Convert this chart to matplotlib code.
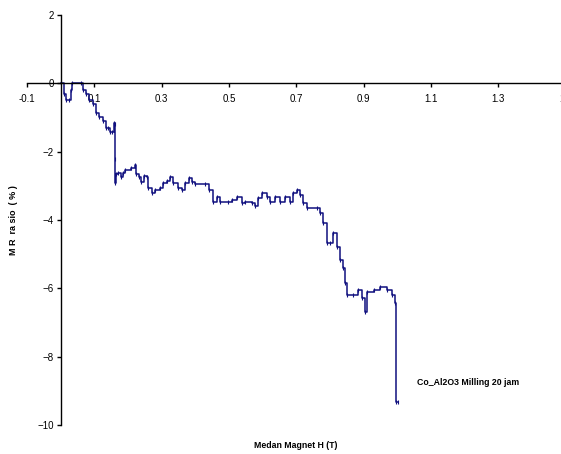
import numpy as np
import matplotlib
matplotlib.use('Agg')
import matplotlib.pyplot as plt

plt.rcParams['font.family'] = ['Liberation Sans Narrow', 'Liberation Sans', 'DejaVu Sans']

# data (H in tesla, MR ratio in %)
H = [0.0, 0.01, 0.017, 0.025, 0.03, 0.035, 0.06, 0.065, 0.075, 0.085,
     0.096, 0.105, 0.115, 0.126, 0.135, 0.14, 0.148, 0.153, 0.158, 0.16,
     0.161, 0.162, 0.165, 0.17, 0.178, 0.185, 0.19, 0.21, 0.22, 0.225,
     0.232, 0.24, 0.248, 0.257, 0.26, 0.27, 0.28, 0.295, 0.305, 0.315,
     0.325, 0.334, 0.35, 0.36, 0.37, 0.38, 0.39, 0.4, 0.43, 0.44,
     0.453, 0.464, 0.473, 0.497, 0.51, 0.524, 0.54, 0.548, 0.568, 0.577,
     0.587, 0.598, 0.613, 0.622, 0.637, 0.652, 0.667, 0.68, 0.69, 0.702,
     0.71, 0.72, 0.732, 0.762, 0.77, 0.78, 0.79, 0.8, 0.81, 0.82,
     0.83, 0.84, 0.845, 0.85, 0.87, 0.884, 0.895, 0.904, 0.91, 0.93,
     0.95, 0.97, 0.984, 0.993, 0.995, 1.003]
MR = [0.0, -0.3, -0.5, -0.5, -0.2, 0.0, 0.0, -0.2, -0.3, -0.5,
      -0.6, -0.88, -1.0, -1.1, -1.3, -1.3, -1.43, -1.43, -1.17, -1.2,
      -2.2, -2.92, -2.65, -2.63, -2.75, -2.62, -2.54, -2.49, -2.4, -2.65,
      -2.75, -2.9, -2.7, -2.75, -3.07, -3.2, -3.12, -3.07, -2.92, -2.85,
      -2.74, -2.92, -3.07, -3.12, -2.92, -2.78, -2.9, -2.95, -2.95, -3.12,
      -3.47, -3.33, -3.47, -3.47, -3.42, -3.33, -3.5, -3.47, -3.5, -3.6,
      -3.36, -3.2, -3.33, -3.47, -3.33, -3.47, -3.33, -3.47, -3.2, -3.12,
      -3.27, -3.5, -3.65, -3.65, -3.8, -4.09, -4.67, -4.67, -4.38, -4.79,
      -5.17, -5.4, -5.84, -6.19, -6.19, -6.04, -6.28, -6.69, -6.1, -6.05,
      -5.95, -6.05, -6.19, -6.42, -9.34, -9.34]

xticks = [-0.1, 0.1, 0.3, 0.5, 0.7, 0.9, 1.1, 1.3, 1.5]
xticklabels = ['-0.1', '0.1', '0.3', '0.5', '0.7', '0.9', '1.1', '1.3', '1.5']
yticks = [2, 0, -2, -4, -6, -8, -10]

fig = plt.figure(figsize=(5.61, 4.54), dpi=100)
ax = fig.add_axes([27 / 561, 29 / 454, 538.5 / 561, 410 / 454])

ax.plot(H, MR, color='#10107f', linewidth=1.1, drawstyle='steps-post',
        marker='|', markersize=3, markeredgewidth=0.8)

ax.set_xlim(-0.1, 1.5)
ax.set_ylim(-10, 2)

ax.spines['left'].set_position(('data', 0))
ax.spines['bottom'].set_position(('data', 0))
ax.spines['top'].set_visible(False)
ax.spines['right'].set_visible(False)
for s in ['left', 'bottom']:
    ax.spines[s].set_linewidth(1.0)

ax.set_xticks(xticks)
ax.set_xticklabels(xticklabels)
ax.set_yticks(yticks)
ax.tick_params(axis='x', direction='out', length=3, width=1, labelsize=7, pad=5)
ax.tick_params(axis='y', direction='out', length=3, width=1, labelsize=7, pad=2)

ax.text(1.059, -8.76, 'Co_Al2O3 Milling 20 jam', fontsize=6.3, fontweight='bold',
        va='center', ha='left')

fig.text(296 / 561, 1 - 445 / 454, 'Medan Magnet H (T)', fontsize=6.3,
         fontweight='bold', ha='center', va='center')
fig.text(14 / 561, 1 - 220 / 454, 'M R  ra sio  ( % )', fontsize=6.5,
         fontweight='bold', ha='center', va='center', rotation=90)

fig.savefig('out.png', dpi=100)
